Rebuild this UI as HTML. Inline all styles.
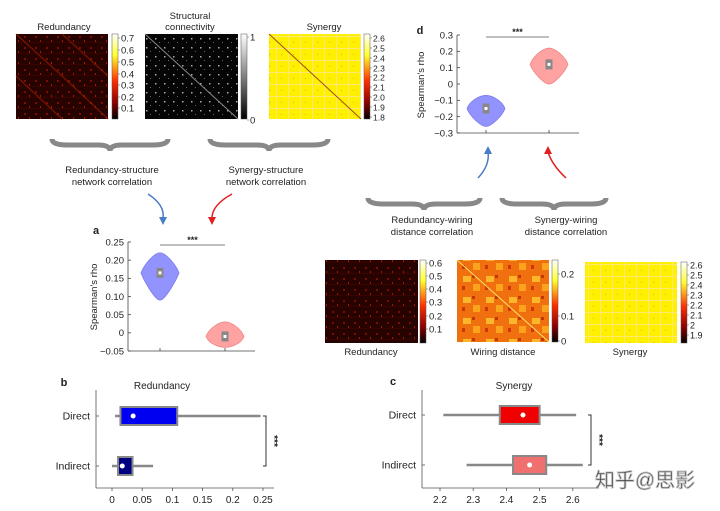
<!DOCTYPE html>
<html><head><meta charset="utf-8">
<style>
html,body{margin:0;padding:0;background:#fff;}
svg{display:block;font-family:"Liberation Sans","Noto Sans CJK SC",sans-serif;}
text{fill:#222;}
</style></head>
<body>
<svg id="fig" width="720" height="511" viewBox="0 0 720 511">
<defs>
<linearGradient id="hot" x1="0" y1="0" x2="0" y2="1">
<stop offset="0" stop-color="#ffffff"/><stop offset="0.25" stop-color="#ffff30"/><stop offset="0.55" stop-color="#ff3000"/><stop offset="0.8" stop-color="#900000"/><stop offset="1" stop-color="#000"/></linearGradient>
<linearGradient id="gray" x1="0" y1="0" x2="0" y2="1"><stop offset="0" stop-color="#fff"/><stop offset="1" stop-color="#000"/></linearGradient>
<pattern id="pRed" width="11" height="11" patternUnits="userSpaceOnUse"><rect width="11" height="11" fill="#260200"/><rect x="2" y="3" width="2" height="2" fill="#7a0e00"/><rect x="7" y="7" width="1" height="2" fill="#a01800"/><rect x="0" y="9" width="11" height="1" fill="#380400"/></pattern>
<pattern id="pSC" width="9" height="9" patternUnits="userSpaceOnUse"><rect width="9" height="9" fill="#050505"/><rect x="2" y="2" width="1.5" height="1.5" fill="#aaa"/><rect x="6" y="6" width="1" height="1" fill="#666"/></pattern>
<pattern id="pSyn" width="12" height="12" patternUnits="userSpaceOnUse"><rect width="12" height="12" fill="#fff000"/><rect x="0" y="0" width="12" height="1" fill="#ffe870"/><rect x="0" y="0" width="1" height="12" fill="#ffe870"/><rect x="5" y="6" width="1" height="1" fill="#f0b000"/></pattern>
<pattern id="pWire" width="23" height="21" patternUnits="userSpaceOnUse"><rect width="23" height="21" fill="#f07010"/><rect x="3" y="3" width="8" height="6" fill="#ffc830" opacity="0.8"/><rect x="13" y="11" width="7" height="7" fill="#ffb020" opacity="0.8"/><rect x="12" y="2" width="3" height="3" fill="#b02000" opacity="0.7"/><rect x="2" y="13" width="3" height="4" fill="#c02000" opacity="0.7"/></pattern>
</defs>
<g id="root"></g>
</svg>
<script>
// ---- data ----
const violinGroupsA = ["Redundancy-structure", "Synergy-structure"];
const violinMinA = [0.09, -0.04];
const violinMaxA = [0.22, 0.03];
const violinMedA = [0.165, -0.01];
const violinGroupsD = ["Redundancy-wiring", "Synergy-wiring"];
const violinMinD = [-0.26, 0.0];
const violinMaxD = [-0.07, 0.22];
const violinMedD = [-0.15, 0.12];
const ticksA = [0.25, 0.20, 0.15, 0.10, 0.05, 0, -0.05];
const tickLabelsA = ["0.25","0.20","0.15","0.10","0.05","0","\u22120.05"];
const ticksD = [0.3, 0.2, 0.1, 0, -0.1, -0.2, -0.3];
const tickLabelsD = ["0.3","0.2","0.1","0","\u22120.1","\u22120.2","\u22120.3"];
const boxCats = ["Direct", "Indirect"];
const redWhiskLo = [0.005, 0.0];
const redQ1 = [0.014, 0.010];
const redQ3 = [0.108, 0.034];
const redWhiskHi = [0.246, 0.068];
const redMid = [0.035, 0.017];
const redTicks = [0, 0.05, 0.1, 0.15, 0.2, 0.25];
const redTickLabels = ["0","0.05","0.1","0.15","0.2","0.25"];
const synWhiskLo = [2.21, 2.28];
const synQ1 = [2.38, 2.42];
const synQ3 = [2.50, 2.52];
const synWhiskHi = [2.61, 2.63];
const synMid = [2.45, 2.47];
const synTicks = [2.2, 2.3, 2.4, 2.5, 2.6];
const synTickLabels = ["2.2","2.3","2.4","2.5","2.6"];

const NS = "http://www.w3.org/2000/svg";
const root = document.getElementById("root");
function el(tag, attrs, parent, txt){
  const e = document.createElementNS(NS, tag);
  for (const k in attrs) e.setAttribute(k, attrs[k]);
  if (txt !== undefined) e.textContent = txt;
  (parent || root).appendChild(e);
  return e;
}
function txt(x,y,s,size,anchor,name,extra){
  const t = el("text", Object.assign({x:x,y:y,"font-size":size,"text-anchor":anchor||"middle"}, extra||{}), null, s);
  
  
  return t;
}

function matrix(x,y,w,h,fill,name,diag){
  const r = el("rect",{x:x,y:y,width:w,height:h,fill:fill});
  
  
  if (diag) el("line",{x1:x,y1:y,x2:x+w,y2:y+h,stroke:diag,"stroke-width":1});
}
function cbar(x,y,w,h,fill,labels,ys,name,fs){
  const r = el("rect",{x:x,y:y,width:w,height:h,fill:fill,stroke:"#555","stroke-width":0.5});
  
  
  labels.forEach((l,i)=>{
    el("line",{x1:x+w,y1:ys[i],x2:x+w+2,y2:ys[i],stroke:"#555","stroke-width":0.5});
    txt(x+w+3, ys[i]+3.3, l, fs||9.5, "start", name+"-label");
  });
}
matrix(16,34,92,85,"url(#pRed)","redundancy-matrix-top");
el("line",{x1:16,y1:34,x2:62,y2:76,stroke:"#a02000","stroke-width":1.5,opacity:0.6});
el("line",{x1:62,y1:34,x2:108,y2:76,stroke:"#a02000","stroke-width":1.5,opacity:0.6});
el("line",{x1:16,y1:76,x2:62,y2:119,stroke:"#a02000","stroke-width":1.5,opacity:0.6});
el("line",{x1:62,y1:76,x2:108,y2:119,stroke:"#a02000","stroke-width":1.5,opacity:0.6});
cbar(112,34,6,85,"url(#hot)",["0.7","0.6","0.5","0.4","0.3","0.2","0.1"],[38,50,62,74,85,97,108],"redundancy-colorbar-top");
txt(64,30,"Redundancy",9.5,"middle","redundancy-title-top");
matrix(145,34,93,85,"url(#pSC)","structural-matrix","#888");
cbar(241,34,6,85,"url(#gray)",["1","0"],[37,120],"structural-colorbar");
txt(190,19,"Structural",9.5,"middle","structural-title");
txt(190,30,"connectivity",9.5,"middle","structural-title-2");
matrix(269,34,92,85,"url(#pSyn)","synergy-matrix-top","#a05000");
cbar(364,34,6,85,"url(#hot)",["2.6","2.5","2.4","2.3","2.2","2.1","2.0","1.9","1.8"],[38,48,58,68,77,87,97,107,117],"synergy-colorbar-top",8.5);
txt(324,30,"Synergy",9.5,"middle","synergy-title-top");

matrix(325,260,93,83,"url(#pRed)","redundancy-matrix-bottom");
cbar(420,260,6,83,"url(#hot)",["0.6","0.5","0.4","0.3","0.2","0.1"],[263,276,289,302,316,329],"redundancy-colorbar-bottom");
txt(371,355,"Redundancy",9.5,"middle","redundancy-label-bottom");
matrix(457,260,92,82,"url(#pWire)","wiring-matrix","#ffe060");
cbar(552,260,6,82,"url(#hot)",["0.2","0.1","0"],[274,316,341],"wiring-colorbar");
txt(503,355,"Wiring distance",9.5,"middle","wiring-label");
matrix(585,262,92,81,"url(#pSyn)","synergy-matrix-bottom");
cbar(681,262,6,81,"url(#hot)",["2.6","2.5","2.4","2.3","2.2","2.1","2","1.9"],[265,275,285,295,305,315,325,335],"synergy-colorbar-bottom",9);
txt(630,355,"Synergy",9.5,"middle","synergy-label-bottom");

function brace(x1,x2,y,name){
  const m=(x1+x2)/2, h=12;
  const p = el("path",{d:`M${x1},${y} Q${x1},${y+h/2} ${x1+15},${y+h/2} L${m-12},${y+h/2} Q${m},${y+h/2} ${m},${y+h} Q${m},${y+h/2} ${m+12},${y+h/2} L${x2-15},${y+h/2} Q${x2},${y+h/2} ${x2},${y}`,fill:"none",stroke:"#888","stroke-width":5});
  
  
}
brace(52,168,139,"brace-redundancy-structure");
brace(210,328,139,"brace-synergy-structure");
txt(112,173,"Redundancy-structure",9.5,"middle","label-redundancy-structure");
txt(112,185,"network correlation",9.5,"middle","label-redundancy-structure-2");
txt(266,173,"Synergy-structure",9.5,"middle","label-synergy-structure");
txt(266,185,"network correlation",9.5,"middle","label-synergy-structure-2");
brace(368,480,198,"brace-redundancy-wiring");
brace(502,606,198,"brace-synergy-wiring");
txt(432,223,"Redundancy-wiring",9.5,"middle","label-redundancy-wiring");
txt(432,235,"distance correlation",9.5,"middle","label-redundancy-wiring-2");
txt(566,223,"Synergy-wiring",9.5,"middle","label-synergy-wiring");
txt(566,235,"distance correlation",9.5,"middle","label-synergy-wiring-2");
function arrow(d,hx,hy,ang,c,name){
  const p=el("path",{d:d,fill:"none",stroke:c,"stroke-width":1.5});
  
  
  el("polygon",{points:"0,0 -4,-8 4,-8",fill:c,transform:`translate(${hx},${hy}) rotate(${ang})`});
}
arrow("M148,194 Q165,205 163,218",163,225,0,"#4a7cc8","arrow-blue-a");
arrow("M232,194 Q212,205 212,218",212,225,0,"#e02020","arrow-red-a");
arrow("M478,178 Q490,165 488,152",488,146,180,"#4a7cc8","arrow-blue-d");
arrow("M566,178 Q552,165 548,152",548,146,180,"#e02020","arrow-red-d");

function violinPanel(cfg){
  const {ax,yTop,yBot,vTop,vBot,xs,mins,maxs,meds,ticks,labels,colFill,colStroke,prefix,bracketY}=cfg;
  const y = v => yTop + (vTop - v)/(vTop - vBot)*(yBot - yTop);
  const axis = el("line",{x1:ax,y1:yTop,x2:ax,y2:yBot,stroke:"#444","stroke-width":0.8});
  
  
  el("line",{x1:ax,y1:yBot,x2:xs[1]+30,y2:yBot,stroke:"#444","stroke-width":0.8});
  ticks.forEach((t,i)=>{
    el("line",{x1:ax,y1:y(t),x2:ax+3,y2:y(t),stroke:"#444","stroke-width":0.8});
    txt(ax-4,y(t)+3.3,labels[i],9.5,"end",prefix+"-tick-label");
  });
  xs.forEach(x=>el("line",{x1:x,y1:yBot,x2:x,y2:yBot-3,stroke:"#444","stroke-width":0.8}));
  xs.forEach((x,i)=>{
    const t=y(maxs[i]), b=y(mins[i]), m=y(meds[i]), w=19;
    const d=`M${x},${t} C${x+6},${t} ${x+w-3},${m-8} ${x+w},${m} C${x+w-3},${m+8} ${x+5},${b} ${x},${b} C${x-5},${b} ${x-w+3},${m+8} ${x-w},${m} C${x-w+3},${m-8} ${x-6},${t} ${x},${t} Z`;
    const v=el("path",{d:d,fill:colFill[i],stroke:colStroke[i],"stroke-width":0.8,opacity:0.9});
    
    
    el("rect",{x:x-3.5,y:m-5,width:7,height:10,fill:"#888"});
    el("rect",{x:x-1.5,y:m-1.5,width:3,height:3,fill:"#fff"});
  });
  el("line",{x1:xs[0],y1:bracketY,x2:xs[1],y2:bracketY,stroke:"#555","stroke-width":0.8});
  txt((xs[0]+xs[1])/2,bracketY-2,"***",9,"middle",prefix+"-significance",{"font-weight":"bold"});
}
violinPanel({ax:128,yTop:242,yBot:351,vTop:0.25,vBot:-0.05,xs:[160,225],mins:violinMinA,maxs:violinMaxA,meds:violinMedA,ticks:ticksA,labels:tickLabelsA,colFill:["#8888ff","#ff9898"],colStroke:["#6a6aee","#ee7a7a"],prefix:"panel-a",bracketY:245});
violinPanel({ax:457,yTop:35,yBot:133,vTop:0.3,vBot:-0.3,xs:[486,549],mins:violinMinD,maxs:violinMaxD,meds:violinMedD,ticks:ticksD,labels:tickLabelsD,colFill:["#8888ff","#ff9898"],colStroke:["#6a6aee","#ee7a7a"],prefix:"panel-d",bracketY:37});
txt(96,234,"a",11,"middle","panel-a-letter",{"font-weight":"bold"});
txt(420,34,"d",11,"middle","panel-d-letter",{"font-weight":"bold"});
txt(0,0,"Spearman's rho",9.5,"middle","panel-a-y-axis-title",{transform:"translate(97,297) rotate(-90)"});
txt(0,0,"Spearman's rho",9.5,"middle","panel-d-y-axis-title",{transform:"translate(424,85) rotate(-90)"});

function boxPanel(cfg){
  const {ax,x0,xScale,v0,yB,ys,lo,q1,q3,hi,mid,ticks,labels,fills,prefix,title,titleX,brX}=cfg;
  const x = v => x0 + (v - v0)*xScale;
  el("line",{x1:ax,y1:390,x2:ax,y2:yB,stroke:"#555","stroke-width":0.8});
  const xa=el("line",{x1:ax,y1:yB,x2:brX+8,y2:yB,stroke:"#555","stroke-width":0.8});
  
  
  ticks.forEach((t,i)=>{
    el("line",{x1:x(t),y1:yB,x2:x(t),y2:yB+3,stroke:"#555","stroke-width":0.8});
    txt(x(t),yB+15,labels[i],10,"middle",prefix+"-tick-label");
  });
  boxCats.forEach((c,i)=>{
    const y=ys[i];
    el("line",{x1:ax,y1:y,x2:ax+3,y2:y,stroke:"#555","stroke-width":0.8});
    txt(ax-6,y+3.5,c,10.5,"end",prefix+"-category-label");
    el("line",{x1:x(lo[i]),y1:y,x2:x(hi[i]),y2:y,stroke:"#888","stroke-width":2.5});
    const b=el("rect",{x:x(q1[i]),y:y-9,width:x(q3[i])-x(q1[i]),height:18,fill:fills[i],stroke:"#888","stroke-width":2});
    
    
    el("circle",{cx:x(mid[i]),cy:y,r:2.5,fill:"#fff"});
  });
  el("path",{d:`M${brX-3},${ys[0]} H${brX} V${ys[1]} H${brX-3}`,fill:"none",stroke:"#333","stroke-width":1});
  txt(0,0,"***",10,"middle",prefix+"-significance",{transform:`translate(${brX+5},${(ys[0]+ys[1])/2}) rotate(90)`,"font-weight":"bold"});
  txt(titleX,389,title,10,"middle",prefix+"-title");
}
boxPanel({ax:96,x0:112,xScale:604,v0:0,yB:488,ys:[416,466],lo:redWhiskLo,q1:redQ1,q3:redQ3,hi:redWhiskHi,mid:redMid,ticks:redTicks,labels:redTickLabels,fills:["#0000f0","#000080"],prefix:"panel-b",title:"Redundancy",titleX:162,brX:266});
boxPanel({ax:422,x0:440,xScale:332,v0:2.2,yB:488,ys:[415,465],lo:synWhiskLo,q1:synQ1,q3:synQ3,hi:synWhiskHi,mid:synMid,ticks:synTicks,labels:synTickLabels,fills:["#f00000","#f07070"],prefix:"panel-c",title:"Synergy",titleX:514,brX:591});
txt(64,386,"b",11,"middle","panel-b-letter",{"font-weight":"bold"});
txt(393,385,"c",11,"middle","panel-c-letter",{"font-weight":"bold"});
txt(645,487,"知乎@思影",20,"middle","watermark",{fill:"none",stroke:"#c0c0c0","stroke-width":0.9});
</script>
</body></html>
